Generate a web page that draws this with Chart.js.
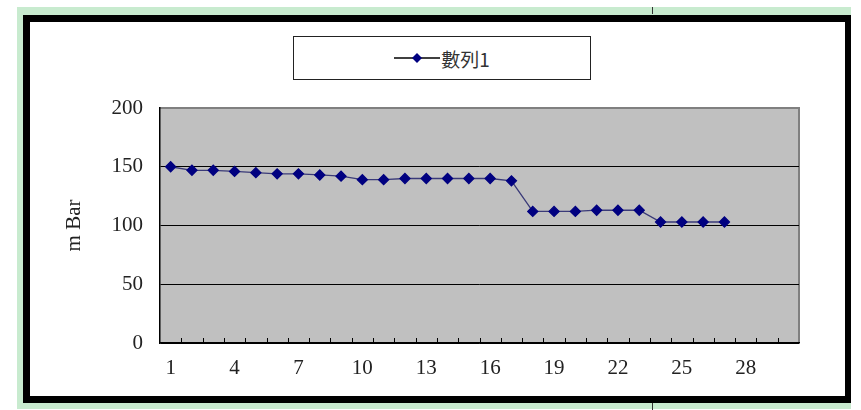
<!DOCTYPE html>
<html>
<head>
<meta charset="utf-8">
<script src="https://cdn.jsdelivr.net/npm/chart.js@4.4.0/dist/chart.umd.min.js"></script>
<style>
  html, body { margin: 0; padding: 0; background: #fff; }
  body { width: 861px; height: 410px; position: relative; overflow: hidden; }
  #green { position: absolute; left: 17px; top: 7px; width: 834px; height: 402px; background: #c8ebcf; }
  #frame { position: absolute; left: 23px; top: 15px; width: 815px; height: 374px; border: 7px solid #000; border-width: 7px 6px 7px 7px; background: #fff; }
  #frame canvas { position: absolute; left: 0; top: 0; }
  .mark { position: absolute; left: 652px; width: 1px; height: 7px; background: #333; }
  #legend { position: absolute; left: 293px; top: 36px; width: 296px; height: 42px; border: 1px solid #222; background: #fff;
            display: flex; align-items: center; justify-content: center; }
  #legend span { font-family: "Noto Sans CJK TC", sans-serif; font-size: 19px; color: #333; margin-left: 1px; line-height: 1; }
</style>
</head>
<body>
<div id="green"></div>
<div class="mark" style="top:7px"></div>
<div class="mark" style="top:403px"></div>
<div id="frame"><canvas id="chart" width="815" height="374"></canvas></div>
<div id="legend">
  <svg width="46" height="12" viewBox="0 0 46 12"><line x1="0" y1="6" x2="46" y2="6" stroke="#000" stroke-width="1.3"/><polygon points="23,1 28,6 23,11 18,6" fill="#000080"/></svg>
  <span>數列1</span>
</div>
<script>
// category labels 1..30, only 27 readings were taken
const labels = [];
for (let i = 1; i <= 30; i++) labels.push(String(i));
const seriesName = "數列1";
const values = [150, 147, 147, 146, 145, 144, 144, 143, 142, 139, 139, 140, 140, 140, 140, 140, 138,
                112, 112, 112, 113, 113, 113, 103, 103, 103, 103];
const yTicks = [0, 50, 100, 150, 200];

const serif = "'Liberation Serif', 'Times New Roman', serif";

const plotBack = {
  id: "plotBack",
  beforeDraw(chart) {
    const { ctx, chartArea: a } = chart;
    ctx.save();
    ctx.fillStyle = "#c0c0c0";
    ctx.fillRect(a.left, a.top, a.right - a.left, a.bottom - a.top);
    ctx.strokeStyle = "#808080";
    ctx.lineWidth = 2;
    ctx.beginPath();
    ctx.moveTo(a.left, a.top);
    ctx.lineTo(a.right, a.top);
    ctx.lineTo(a.right, a.bottom);
    ctx.stroke();
    ctx.restore();
  },
  afterDatasetsDraw(chart) {
    // inward tick marks between categories
    const { ctx, chartArea: a } = chart;
    const x = chart.scales.x;
    const step = x.getPixelForValue(1) - x.getPixelForValue(0);
    ctx.save();
    ctx.strokeStyle = "#000";
    ctx.lineWidth = 1;
    ctx.beginPath();
    for (let i = 1; i < labels.length; i++) {
      const px = Math.round(x.getPixelForValue(i) - step / 2) + 0.5;
      ctx.moveTo(px, a.bottom);
      ctx.lineTo(px, a.bottom - 5);
    }
    ctx.stroke();
    ctx.restore();
  }
};

new Chart(document.getElementById("chart"), {
  type: "line",
  data: {
    labels,
    datasets: [{
      label: seriesName,
      data: values,
      borderColor: "#3a3a78",
      borderWidth: 1.3,
      pointStyle: "rectRot",
      pointRadius: 5,
      pointBackgroundColor: "#000080",
      pointBorderColor: "#000080",
      tension: 0
    }]
  },
  options: {
    responsive: false,
    animation: false,
    layout: { padding: { top: 86, right: 46, left: 0, bottom: 0 } },
    plugins: { legend: { display: false }, tooltip: { enabled: false } },
    scales: {
      x: {
        offset: true,
        grid: { display: true, drawOnChartArea: false, drawTicks: false, offset: true },
        border: { display: true, color: "#000", width: 1.5 },
        ticks: {
          autoSkip: false, maxRotation: 0, padding: 13,
          color: "#222", font: { family: serif, size: 21 },
          callback: (v, i) => (i % 3 === 0 ? labels[i] : "")
        },
        afterFit: s => { s.height = 53; }
      },
      y: {
        min: 0, max: 200,
        afterBuildTicks: s => { s.ticks = yTicks.map(v => ({ value: v })); },
        grid: {
          drawTicks: false,
          color: c => (c.tick.value === 200 ? "#808080" : "#000"),
          lineWidth: 1
        },
        border: { display: true, color: "#000", width: 1.5 },
        ticks: { padding: 17, color: "#222", font: { family: serif, size: 21 } },
        title: {
          display: true, text: "m Bar", color: "#222",
          font: { family: serif, size: 21 },
          padding: { top: 32, bottom: 0 }
        },
        afterFit: s => { s.width = 130; }
      }
    }
  },
  plugins: [plotBack]
});
</script>
</body>
</html>
